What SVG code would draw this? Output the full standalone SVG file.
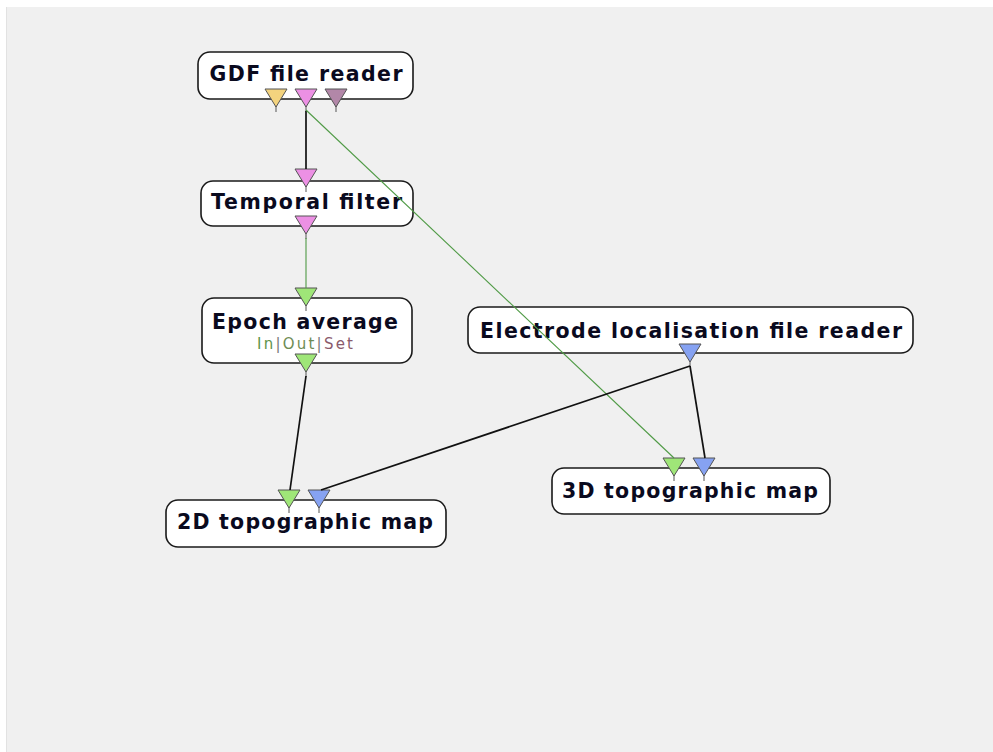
<svg xmlns="http://www.w3.org/2000/svg" width="993" height="752" viewBox="0 0 993 752">
  <defs>
    <style>
      .box { fill: #ffffff; stroke: #1a1a1a; stroke-width: 1.6; }
      .title { font-family: "DejaVu Sans", Verdana, sans-serif; font-weight: bold; font-size: 20.5px; fill: #0a0a1e; text-anchor: middle; }
      .sub { font-family: "DejaVu Sans", Verdana, sans-serif; font-size: 15px; text-anchor: middle; }
      .port { stroke: #555555; stroke-width: 1; stroke-linejoin: miter; }
      .stub { stroke: #555555; stroke-width: 1; }
      .p-yellow { fill: #f3d37e; }
      .p-pink { fill: #ec90e4; }
      .p-mauve { fill: #b287a8; }
      .p-green { fill: #9fe678; }
      .p-blue { fill: #86a2f2; }
      .link { fill: none; stroke: #111111; stroke-width: 1.7; }
      .link-green { fill: none; stroke: #4f9a45; stroke-width: 1.1; }
    </style>
    <!-- stem under each port triangle, origin at the triangle's top centre -->
    <g id="port-shape">
      <line class="stub" x1="0" y1="15" x2="0" y2="23"/>
    </g>
  </defs>

  <!-- canvas -->
  <rect x="0" y="0" width="993" height="752" fill="#ffffff"/>
  <rect x="6" y="7" width="987" height="745" fill="#f0f0f0"/>
  <line x1="6.5" y1="7" x2="6.5" y2="752" stroke="#e2e2e2" stroke-width="1"/>

  <!-- boxes -->
  <g id="node-gdf-reader">
    <rect class="box" x="198" y="52" width="215" height="47" rx="12"/>
    <text class="title" x="306" y="81" textLength="193" lengthAdjust="spacing">GDF file reader</text>
    <use href="#port-shape" x="276" y="89"/>
    <polygon class="port p-yellow" points="265,89 287,89 276,107"/>
    <use href="#port-shape" x="306" y="89"/>
    <polygon class="port p-pink" points="295,89 317,89 306,107"/>
    <use href="#port-shape" x="336" y="89"/>
    <polygon class="port p-mauve" points="325,89 347,89 336,107"/>
  </g>

  <g id="node-temporal-filter">
    <rect class="box" x="201" y="181" width="212" height="45" rx="12"/>
    <text class="title" x="306.5" y="209" textLength="191" lengthAdjust="spacing">Temporal filter</text>
    <use href="#port-shape" x="306" y="169"/>
    <polygon class="port p-pink" points="295,169 317,169 306,187"/>
    <use href="#port-shape" x="306" y="216"/>
    <polygon class="port p-pink" points="295,216 317,216 306,234"/>
  </g>

  <g id="node-epoch-average">
    <rect class="box" x="202" y="298" width="210" height="65" rx="12"/>
    <text class="title" x="305" y="329" textLength="186" lengthAdjust="spacing">Epoch average</text>
    <text class="sub" x="305" y="349" textLength="96" lengthAdjust="spacing"><tspan fill="#5f944c">In</tspan><tspan fill="#7a7a7a">|</tspan><tspan fill="#6e8c55">Out</tspan><tspan fill="#7a7a7a">|</tspan><tspan fill="#8a5a6c">Set</tspan></text>
    <use href="#port-shape" x="306" y="288"/>
    <polygon class="port p-green" points="295,288 317,288 306,306"/>
    <use href="#port-shape" x="306" y="354"/>
    <polygon class="port p-green" points="295,354 317,354 306,372"/>
  </g>

  <g id="node-electrode-reader">
    <rect class="box" x="468" y="307" width="445" height="46" rx="12"/>
    <text class="title" x="691" y="338" textLength="422" lengthAdjust="spacing">Electrode localisation file reader</text>
    <use href="#port-shape" x="690" y="344"/>
    <polygon class="port p-blue" points="679,344 701,344 690,362"/>
  </g>

  <g id="node-2d-map">
    <rect class="box" x="166" y="500" width="280" height="47" rx="12"/>
    <text class="title" x="305" y="529" textLength="256" lengthAdjust="spacing">2D topographic map</text>
    <use href="#port-shape" x="289" y="490"/>
    <polygon class="port p-green" points="278,490 300,490 289,508"/>
    <use href="#port-shape" x="319" y="490"/>
    <polygon class="port p-blue" points="308,490 330,490 319,508"/>
  </g>

  <g id="node-3d-map">
    <rect class="box" x="552" y="468" width="278" height="46" rx="12"/>
    <text class="title" x="690" y="498" textLength="256" lengthAdjust="spacing">3D topographic map</text>
    <use href="#port-shape" x="674" y="458"/>
    <polygon class="port p-green" points="663,458 685,458 674,476"/>
    <use href="#port-shape" x="704" y="458"/>
    <polygon class="port p-blue" points="693,458 715,458 704,476"/>
  </g>

  <!-- connectors, drawn over the boxes -->
  <g id="connectors">
    <line class="link" x1="306" y1="111" x2="306" y2="169"/>
    <line class="link-green" x1="306" y1="110" x2="674" y2="458"/>
    <line class="link-green" x1="306" y1="238" x2="306" y2="288"/>
    <line class="link" x1="306" y1="376" x2="290" y2="490"/>
    <line class="link" x1="690" y1="366" x2="321" y2="490"/>
    <line class="link" x1="690" y1="366" x2="705" y2="458"/>
  </g>
</svg>
